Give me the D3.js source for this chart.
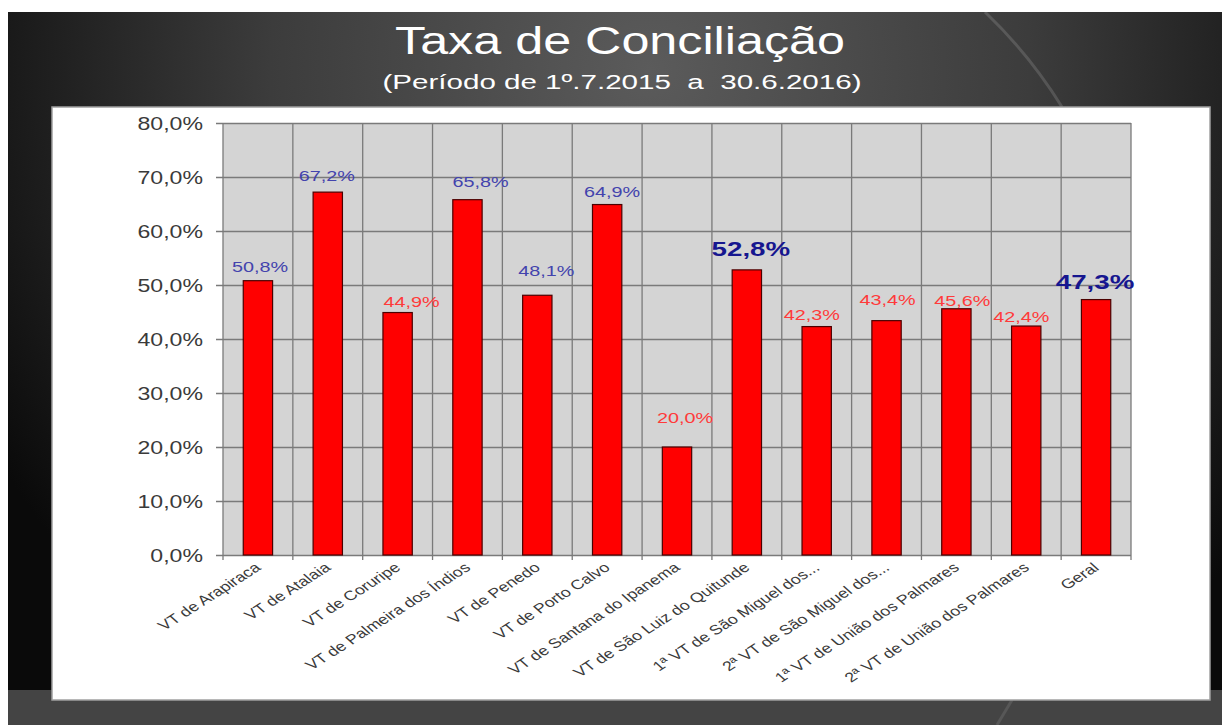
<!DOCTYPE html>
<html>
<head>
<meta charset="utf-8">
<script src="https://cdn.jsdelivr.net/npm/d3@7"></script>
<style>
  body { margin: 0; background: #fff; }
  svg { display: block; }
</style>
</head>
<body>
<svg id="chart"></svg>
<script>
// dados do gráfico
const categories = [
    "VT de Arapiraca", "VT de Atalaia", "VT de Coruripe", "VT de Palmeira dos Índios",
    "VT de Penedo", "VT de Porto Calvo", "VT de Santana do Ipanema", "VT de São Luiz do Quitunde",
    "1ª VT de São Miguel dos...", "2ª VT de São Miguel dos...", "1ª VT de União dos Palmares",
    "2ª VT de União dos Palmares", "Geral"
];
const values = [50.8, 67.2, 44.9, 65.8, 48.1, 64.9, 20.0, 52.8, 42.3, 43.4, 45.6, 42.4, 47.3];
const yTicks = [0, 10, 20, 30, 40, 50, 60, 70, 80];

// estilo dos rótulos (separado dos dados)
const labelKind = ["blue", "blue", "red", "blue", "blue", "blue", "red", "bold", "red", "red", "red", "red", "bold"];
// [dx, distância acima da barra] - ajustes manuais como no original
const labelNudge = [[2, 9], [-1, 11], [14, 6], [13, 13], [9, 19], [5, 8], [8, 24], [4, 14], [-5, 7], [1, 16], [6, 3], [-5, 4], [-1, 11]];

const width = 1222;
const height = 725;
const plot = { left: 223, right: 1131, top: 123, bottom: 555 };
const stretch = 1.32; // a imagem original está esticada na horizontal
const font = "'Liberation Sans', Arial, sans-serif";

const svg = d3.select("#chart")
    .attr("width", width)
    .attr("height", height);

const defs = svg.append("defs");
const bg = defs.append("radialGradient")
    .attr("id", "bgGrad")
    .attr("gradientUnits", "userSpaceOnUse")
    .attr("cx", 650).attr("cy", 70).attr("r", 760);
bg.append("stop").attr("offset", 0).attr("stop-color", "#5b5b5b");
bg.append("stop").attr("offset", 0.5).attr("stop-color", "#3c3c3c");
bg.append("stop").attr("offset", 1).attr("stop-color", "#0a0a0a");

// fundo escuro
svg.append("rect")
    .attr("x", 8).attr("y", 12)
    .attr("width", width - 8).attr("height", height - 12)
    .attr("fill", "url(#bgGrad)");
svg.append("rect")
    .attr("x", 8).attr("y", 690)
    .attr("width", width - 8).attr("height", height - 690)
    .attr("fill", "#444");

// arco decorativo
svg.append("path")
    .attr("d", "M985,12 Q1030,55 1062,107")
    .attr("fill", "none")
    .attr("stroke", "rgba(255,255,255,0.14)")
    .attr("stroke-width", 3);
svg.append("path")
    .attr("d", "M1012,700 L997,725")
    .attr("fill", "none")
    .attr("stroke", "rgba(255,255,255,0.10)")
    .attr("stroke-width", 3);

// títulos
svg.append("text")
    .attr("x", 620).attr("y", 54)
    .attr("text-anchor", "middle")
    .attr("font-family", font)
    .attr("font-size", 38)
    .attr("fill", "#fff")
    .attr("textLength", 450)
    .attr("lengthAdjust", "spacingAndGlyphs")
    .text("Taxa de Conciliação");

svg.append("text")
    .attr("x", 622).attr("y", 89)
    .attr("text-anchor", "middle")
    .attr("font-family", font)
    .attr("font-size", 20)
    .attr("fill", "#fff")
    .attr("textLength", 479)
    .attr("lengthAdjust", "spacingAndGlyphs")
    .text("(Período de 1º.7.2015 \u00a0a \u00a030.6.2016)");

// painel branco
svg.append("rect")
    .attr("x", 52).attr("y", 107)
    .attr("width", 1158).attr("height", 593)
    .attr("fill", "#fff")
    .attr("stroke", "#a0a0a0")
    .attr("stroke-width", 1.5);

// escalas
const x = d3.scaleBand()
    .domain(categories)
    .range([plot.left, plot.right])
    .padding(0);

const y = d3.scaleLinear()
    .domain([0, 80])
    .range([plot.bottom, plot.top]);

const barW = x.bandwidth() * 0.42;

// área do gráfico
svg.append("rect")
    .attr("x", plot.left).attr("y", plot.top)
    .attr("width", plot.right - plot.left).attr("height", plot.bottom - plot.top)
    .attr("fill", "#d4d4d4");

// linhas de grade horizontais (eixo y)
const yAxis = svg.append("g")
    .attr("transform", `translate(${plot.left},0)`)
    .call(d3.axisLeft(y)
        .tickValues(yTicks)
        .tickSize(7)
        .tickFormat(d => d.toFixed(1).replace(".", ",") + "%"));
yAxis.select(".domain").remove();
yAxis.selectAll(".tick line")
    .attr("stroke", "#7a7a7a")
    .attr("stroke-width", 1.3)
    .attr("x2", plot.right - plot.left)
    .attr("x1", -7);
yAxis.selectAll(".tick text")
    .attr("font-family", font)
    .attr("font-size", 17.5)
    .attr("fill", "#3a3a3a")
    .attr("x", -20 / stretch)
    .attr("dy", "0.36em")
    .attr("transform", `scale(${stretch},1)`);

// linhas de grade verticais (limites das categorias)
const xBounds = categories.map(c => x(c)).concat([plot.right]);
svg.append("g")
    .selectAll("line")
    .data(xBounds)
    .enter()
    .append("line")
    .attr("x1", d => d).attr("x2", d => d)
    .attr("y1", plot.top).attr("y2", plot.bottom + 5)
    .attr("stroke", "#7a7a7a")
    .attr("stroke-width", 1.3);

// barras
svg.append("g")
    .selectAll("rect")
    .data(values)
    .enter()
    .append("rect")
    .attr("x", (d, i) => x(categories[i]) + (x.bandwidth() - barW) / 2)
    .attr("y", d => y(d))
    .attr("width", barW)
    .attr("height", d => y(0) - y(d))
    .attr("fill", "#ff0000")
    .attr("stroke", "#4a0000")
    .attr("stroke-width", 1.2);

// rótulos de valores
const kindStyle = {
    blue: { fill: "#4343ad", size: 15, weight: "normal" },
    red: { fill: "#ff3a3a", size: 15, weight: "normal" },
    bold: { fill: "#16168f", size: 21, weight: "bold" }
};
svg.append("g")
    .selectAll("text")
    .data(values)
    .enter()
    .append("text")
    .attr("transform", (d, i) => {
        const cx = x(categories[i]) + x.bandwidth() / 2 + labelNudge[i][0];
        const cy = y(d) - labelNudge[i][1];
        return `translate(${cx},${cy}) scale(${stretch},1)`;
    })
    .attr("text-anchor", "middle")
    .attr("font-family", font)
    .attr("font-size", (d, i) => kindStyle[labelKind[i]].size)
    .attr("font-weight", (d, i) => kindStyle[labelKind[i]].weight)
    .attr("fill", (d, i) => kindStyle[labelKind[i]].fill)
    .text(d => d.toFixed(1).replace(".", ",") + "%");

// rótulos das categorias (inclinados)
svg.append("g")
    .selectAll("text")
    .data(categories)
    .enter()
    .append("text")
    .attr("transform", d => `translate(${x(d) + x.bandwidth() / 2 + 4},${plot.bottom + 14}) scale(${stretch},1) rotate(-40)`)
    .attr("text-anchor", "end")
    .attr("font-family", font)
    .attr("font-size", 13.5)
    .attr("fill", "#3a3a3a")
    .text(d => d);
</script>
</body>
</html>
